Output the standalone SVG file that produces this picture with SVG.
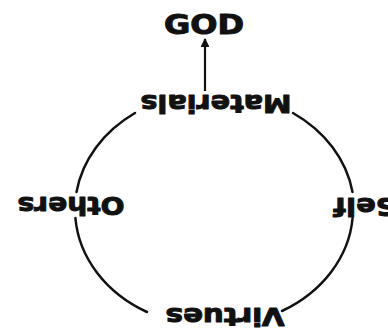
<svg xmlns="http://www.w3.org/2000/svg" width="388" height="329" viewBox="0 0 388 329">
  <style>
    .lbl { font-family: "DejaVu Sans", Verdana, sans-serif; font-weight: bold; fill: #111; stroke: #111; stroke-width: 1; stroke-linejoin: round; text-anchor: middle; }
    .arc { fill: none; stroke: #111; stroke-width: 2.5; stroke-linecap: round; }
    .arrow { stroke: #111; stroke-width: 2.2; fill: none; }
  </style>
  <defs>
    <marker id="head" viewBox="0 0 10 10" refX="9" refY="5" markerWidth="4.2" markerHeight="4" markerUnits="strokeWidth" orient="auto">
      <path d="M0,0 L10,5 L0,10 Z" fill="#111"/>
    </marker>
  </defs>
  <rect width="388" height="329" fill="#fff"/>
  <g id="connectors">
    <line class="arrow" x1="205" y1="91" x2="205" y2="39" marker-end="url(#head)"/>
    <path class="arc" d="M293 113 A139 117 0 0 1 352.5 192"/>
    <path class="arc" d="M352.6 218 A139 117 0 0 1 282 311"/>
    <path class="arc" d="M147 312 A139 117 0 0 1 75.4 218"/>
    <path class="arc" d="M76.5 192 A139 117 0 0 1 135 113"/>
  </g>
  <g id="god">
    <text class="lbl" x="204" y="34" font-size="26" textLength="80" lengthAdjust="spacingAndGlyphs">GOD</text>
  </g>
  <g id="materials">
    <text class="lbl" x="216" y="95" font-size="25" textLength="151" lengthAdjust="spacingAndGlyphs" transform="rotate(180 216 95)">Materials</text>
  </g>
  <g id="others">
    <text class="lbl" x="71" y="197" font-size="25" textLength="107" lengthAdjust="spacingAndGlyphs" transform="rotate(180 71 197)">Others</text>
  </g>
  <g id="self">
    <text class="lbl" x="365" y="198" font-size="25" textLength="63" lengthAdjust="spacingAndGlyphs" transform="rotate(180 365 198)">Self</text>
  </g>
  <g id="virtues">
    <text class="lbl" x="225" y="308" font-size="25" textLength="119" lengthAdjust="spacingAndGlyphs" transform="rotate(180 225 308)">Virtues</text>
  </g>
</svg>
